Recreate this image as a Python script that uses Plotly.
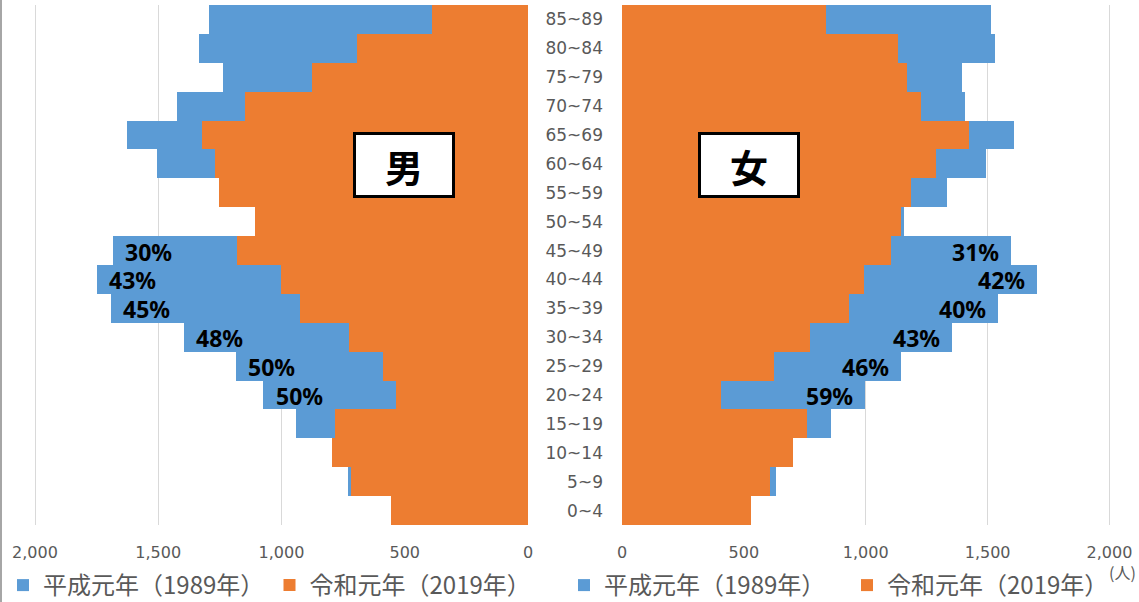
import plotly.graph_objects as go

# ---- data (bottom to top) ----
age_groups = ["0~4", "5~9", "10~14", "15~19", "20~24", "25~29", "30~34", "35~39",
              "40~44", "45~49", "50~54", "55~59", "60~64", "65~69", "70~74",
              "75~79", "80~84", "85~89"]

male_1989 = [540, 732, 770, 943, 1073, 1183, 1394, 1690, 1750, 1682, 1080, 1190,
             1506, 1627, 1425, 1239, 1335, 1292]
male_2019 = [555, 716, 797, 783, 534, 589, 725, 923, 1000, 1180, 1109, 1254,
             1270, 1323, 1148, 878, 695, 391]

female_1989 = [510, 630, 680, 858, 995, 1146, 1352, 1543, 1704, 1596, 1157, 1335,
               1494, 1610, 1406, 1395, 1530, 1513]
female_2019 = [529, 607, 702, 757, 408, 622, 772, 931, 994, 1102, 1144, 1186,
               1290, 1424, 1226, 1171, 1132, 838]

male_pct = ["", "", "", "", "50%", "50%", "48%", "45%", "43%", "30%",
            "", "", "", "", "", "", "", ""]
female_pct = ["", "", "", "", "59%", "46%", "43%", "40%", "42%", "31%",
              "", "", "", "", "", "", "", ""]

x_ticks = [0, 500, 1000, 1500, 2000]
name_1989 = "平成元年（1989年）"
name_2019 = "令和元年（2019年）"

BLUE = "#5B9BD5"
ORANGE = "#ED7D31"
GRAY_TXT = "#595959"
GRID = "#D9D9D9"
W, H = 1139, 602

fig = go.Figure()
fig.add_trace(go.Bar(x=male_1989, y=age_groups, orientation="h", xaxis="x", yaxis="y",
                     marker=dict(color=BLUE, line=dict(width=0)), name=name_1989,
                     legend="legend", hoverinfo="skip"))
fig.add_trace(go.Bar(x=male_2019, y=age_groups, orientation="h", xaxis="x", yaxis="y",
                     marker=dict(color=ORANGE, line=dict(width=0)), name=name_2019,
                     legend="legend2", hoverinfo="skip"))
fig.add_trace(go.Bar(x=female_1989, y=age_groups, orientation="h", xaxis="x2", yaxis="y2",
                     marker=dict(color=BLUE, line=dict(width=0)), name=name_1989,
                     legend="legend3", hoverinfo="skip"))
fig.add_trace(go.Bar(x=female_2019, y=age_groups, orientation="h", xaxis="x2", yaxis="y2",
                     marker=dict(color=ORANGE, line=dict(width=0)), name=name_2019,
                     legend="legend4", hoverinfo="skip"))

# slightly extended range so that the 2,000 grid line is drawn near the plot edge
X_MAX = 2012
left_px = 528 - 493 * X_MAX / 2000
right_px = 622 + 487.5 * X_MAX / 2000

y_dom = [1 - 525 / H, 1 - 5 / H]
tickfont = dict(family="DejaVu Sans", size=16, color=GRAY_TXT)
common_x = dict(tickvals=x_ticks, tickformat=",", showgrid=True, gridcolor=GRID, gridwidth=1,
                zeroline=False, showline=False, ticks="", tickfont=tickfont,
                ticklabelstandoff=16, fixedrange=True, automargin=False)
fig.update_layout(
    template="none",
    width=W, height=H,
    margin=dict(l=0, r=0, t=0, b=0, autoexpand=False),
    paper_bgcolor="white", plot_bgcolor="white",
    barmode="overlay", bargap=0,
    xaxis=dict(domain=[left_px / W, 528 / W], range=[X_MAX, 0], anchor="y", **common_x),
    xaxis2=dict(domain=[622 / W, right_px / W], range=[0, X_MAX], anchor="y2", **common_x),
    yaxis=dict(domain=y_dom, type="category", categoryarray=age_groups, anchor="x",
               showticklabels=False, showgrid=False, zeroline=False, showline=False,
               ticks="", fixedrange=True, automargin=False),
    yaxis2=dict(domain=y_dom, type="category", categoryarray=age_groups, anchor="x2",
                side="left", showticklabels=True, showgrid=False, zeroline=False,
                showline=False, ticks="", ticklabelstandoff=18, automargin=False,
                tickfont=dict(family="DejaVu Sans", size=17, color=GRAY_TXT),
                fixedrange=True),
    showlegend=True,
)

leg_font = dict(family="Noto Sans CJK JP", size=24, color=GRAY_TXT)
leg_y = 1 - 585.5 / H
for key, lx in [("legend", 3), ("legend2", 269.5), ("legend3", 564), ("legend4", 847)]:
    fig.update_layout({key: dict(orientation="h", x=lx / W, y=leg_y, xanchor="left",
                                 yanchor="middle", font=leg_font, bgcolor="rgba(0,0,0,0)",
                                 borderwidth=0, itemwidth=30, itemclick=False,
                                 itemdoubleclick=False)})

annotations = []
pct_font = dict(family="Noto Sans", size=23, color="black", weight="bold")
for v, lab, cat in zip(male_1989, male_pct, age_groups):
    if lab:
        annotations.append(dict(x=v, y=cat, xref="x", yref="y", text=lab, showarrow=False,
                                xanchor="left", yanchor="middle", xshift=10, yshift=-1,
                                font=pct_font))
for v, lab, cat in zip(female_1989, female_pct, age_groups):
    if lab:
        annotations.append(dict(x=v, y=cat, xref="x2", yref="y2", text=lab, showarrow=False,
                                xanchor="right", yanchor="middle", xshift=-10, yshift=-1,
                                font=pct_font))

box_font = dict(family="Noto Sans CJK JP", size=38, color="black", weight="bold")
for txt, cx in [("男", 404), ("女", 749)]:
    annotations.append(dict(x=cx / W, y=1 - 165 / H, xref="paper", yref="paper", text=txt,
                            showarrow=False, xanchor="center", yanchor="middle",
                            width=94, height=58, bgcolor="white", bordercolor="black",
                            borderwidth=3, borderpad=1, font=box_font))

annotations.append(dict(x=1137 / W, y=1 - 572 / H, xref="paper", yref="paper", text="(人)",
                        showarrow=False, xanchor="right", yanchor="middle", borderpad=0,
                        font=dict(family="Noto Sans CJK JP", size=16, color=GRAY_TXT)))

fig.update_layout(annotations=annotations)

fig.add_shape(type="line", xref="paper", yref="paper", x0=1 / W, x1=1 / W, y0=0, y1=1,
              line=dict(color="#A6A6A6", width=2))

fig.write_html("out.html")
